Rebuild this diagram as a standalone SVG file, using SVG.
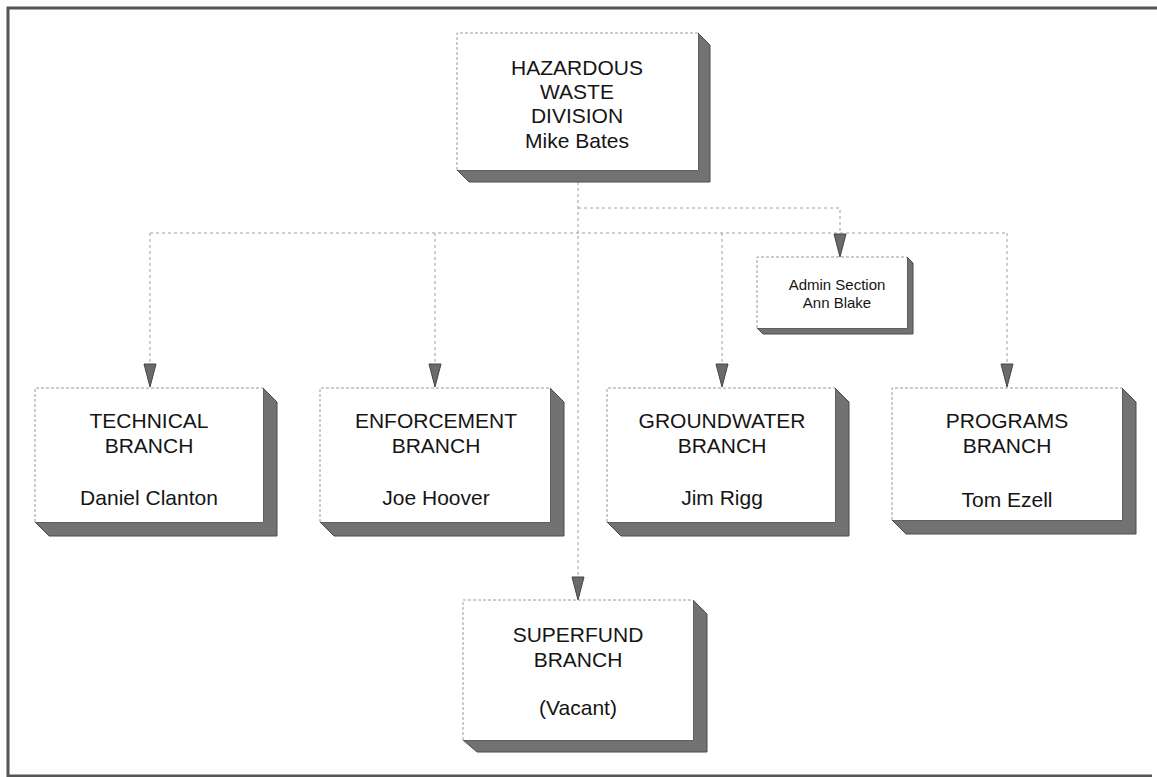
<svg xmlns="http://www.w3.org/2000/svg" width="1157" height="777" viewBox="0 0 1157 777">
  <style>
    .frame { fill: none; stroke: #555; stroke-width: 3; }
    .face { fill: #fff; stroke: none; }
    .edge { fill: none; stroke: #9a9a9a; stroke-width: 1; stroke-dasharray: 3 2; }
    .shade { fill: #727272; stroke: #4a4a4a; stroke-width: 1; }
    .conn { fill: none; stroke: #a0a0a0; stroke-width: 1; stroke-dasharray: 3 3; }
    .big { font-family: "Liberation Sans", Arial, sans-serif; font-size: 21px; fill: #151515; text-anchor: middle; }
    .small { font-family: "Liberation Sans", Arial, sans-serif; font-size: 15px; fill: #151515; text-anchor: middle; }
  </style>
  <defs>
    <!-- downward arrowhead, tip at the origin -->
    <path id="tri" d="M-6,-23 L6,-23 L0,0 Z" fill="#6a6a6a" stroke="#444" stroke-width="1"/>
  </defs>

  <rect width="1157" height="777" fill="#fff"/>
  <!-- page frame: top, left and bottom rules -->
  <path class="frame" d="M1157,8 L8,8 L8,776 L1152,776"/>

  <!-- connectors -->
  <g id="connectors">
    <path class="conn" d="M578,182 L578,577"/>
    <path class="conn" d="M578,208 L840,208 L840,236"/>
    <path class="conn" d="M150,233 L1007,233"/>
    <path class="conn" d="M150,233 L150,366"/>
    <path class="conn" d="M435,233 L435,366"/>
    <path class="conn" d="M722,233 L722,366"/>
    <path class="conn" d="M1007,233 L1007,366"/>
    <use href="#tri" x="840" y="257"/>
    <use href="#tri" x="150" y="387"/>
    <use href="#tri" x="435" y="387"/>
    <use href="#tri" x="722" y="387"/>
    <use href="#tri" x="1007" y="387"/>
    <use href="#tri" x="578" y="600"/>
  </g>

  <!-- division head -->
  <g id="division">
    <polygon class="shade" points="698,33 710,45 710,182 469,182 457,170 698,170"/>
    <rect class="face" x="457" y="33" width="241" height="137"/>
    <path class="edge" d="M457,170 L457,33 L698,33"/>
    <text class="big" x="577" y="75">HAZARDOUS</text>
    <text class="big" x="577" y="99">WASTE</text>
    <text class="big" x="577" y="123">DIVISION</text>
    <text class="big" x="577" y="148">Mike Bates</text>
  </g>

  <!-- admin section -->
  <g id="admin">
    <polygon class="shade" points="907,257 913,263 913,334 763,334 757,328 907,328"/>
    <rect class="face" x="757" y="257" width="150" height="71"/>
    <path class="edge" d="M757,328 L757,257 L907,257"/>
    <text class="small" x="837" y="290">Admin Section</text>
    <text class="small" x="837" y="308">Ann Blake</text>
  </g>

  <!-- branches -->
  <g id="technical">
    <polygon class="shade" points="263,388 277,402 277,536 49,536 35,522 263,522"/>
    <rect class="face" x="35" y="388" width="228" height="134"/>
    <path class="edge" d="M35,522 L35,388 L263,388"/>
    <text class="big" x="149" y="428">TECHNICAL</text>
    <text class="big" x="149" y="453">BRANCH</text>
    <text class="big" x="149" y="505">Daniel Clanton</text>
  </g>

  <g id="enforcement">
    <polygon class="shade" points="550,388 564,402 564,536 334,536 320,522 550,522"/>
    <rect class="face" x="320" y="388" width="230" height="134"/>
    <path class="edge" d="M320,522 L320,388 L550,388"/>
    <text class="big" x="436" y="428">ENFORCEMENT</text>
    <text class="big" x="436" y="453">BRANCH</text>
    <text class="big" x="436" y="505">Joe Hoover</text>
  </g>

  <g id="groundwater">
    <polygon class="shade" points="835,388 849,402 849,536 621,536 607,522 835,522"/>
    <rect class="face" x="607" y="388" width="228" height="134"/>
    <path class="edge" d="M607,522 L607,388 L835,388"/>
    <text class="big" x="722" y="428">GROUNDWATER</text>
    <text class="big" x="722" y="453">BRANCH</text>
    <text class="big" x="722" y="505">Jim Rigg</text>
  </g>

  <g id="programs">
    <polygon class="shade" points="1122,388 1136,402 1136,534 906,534 892,520 1122,520"/>
    <rect class="face" x="892" y="388" width="230" height="132"/>
    <path class="edge" d="M892,520 L892,388 L1122,388"/>
    <text class="big" x="1007" y="428">PROGRAMS</text>
    <text class="big" x="1007" y="453">BRANCH</text>
    <text class="big" x="1007" y="507">Tom Ezell</text>
  </g>

  <g id="superfund">
    <polygon class="shade" points="693,600 707,614 707,752 477,752 463,740 693,740"/>
    <rect class="face" x="463" y="600" width="230" height="140"/>
    <path class="edge" d="M463,740 L463,600 L693,600"/>
    <text class="big" x="578" y="642">SUPERFUND</text>
    <text class="big" x="578" y="667">BRANCH</text>
    <text class="big" x="578" y="715">(Vacant)</text>
  </g>
</svg>
